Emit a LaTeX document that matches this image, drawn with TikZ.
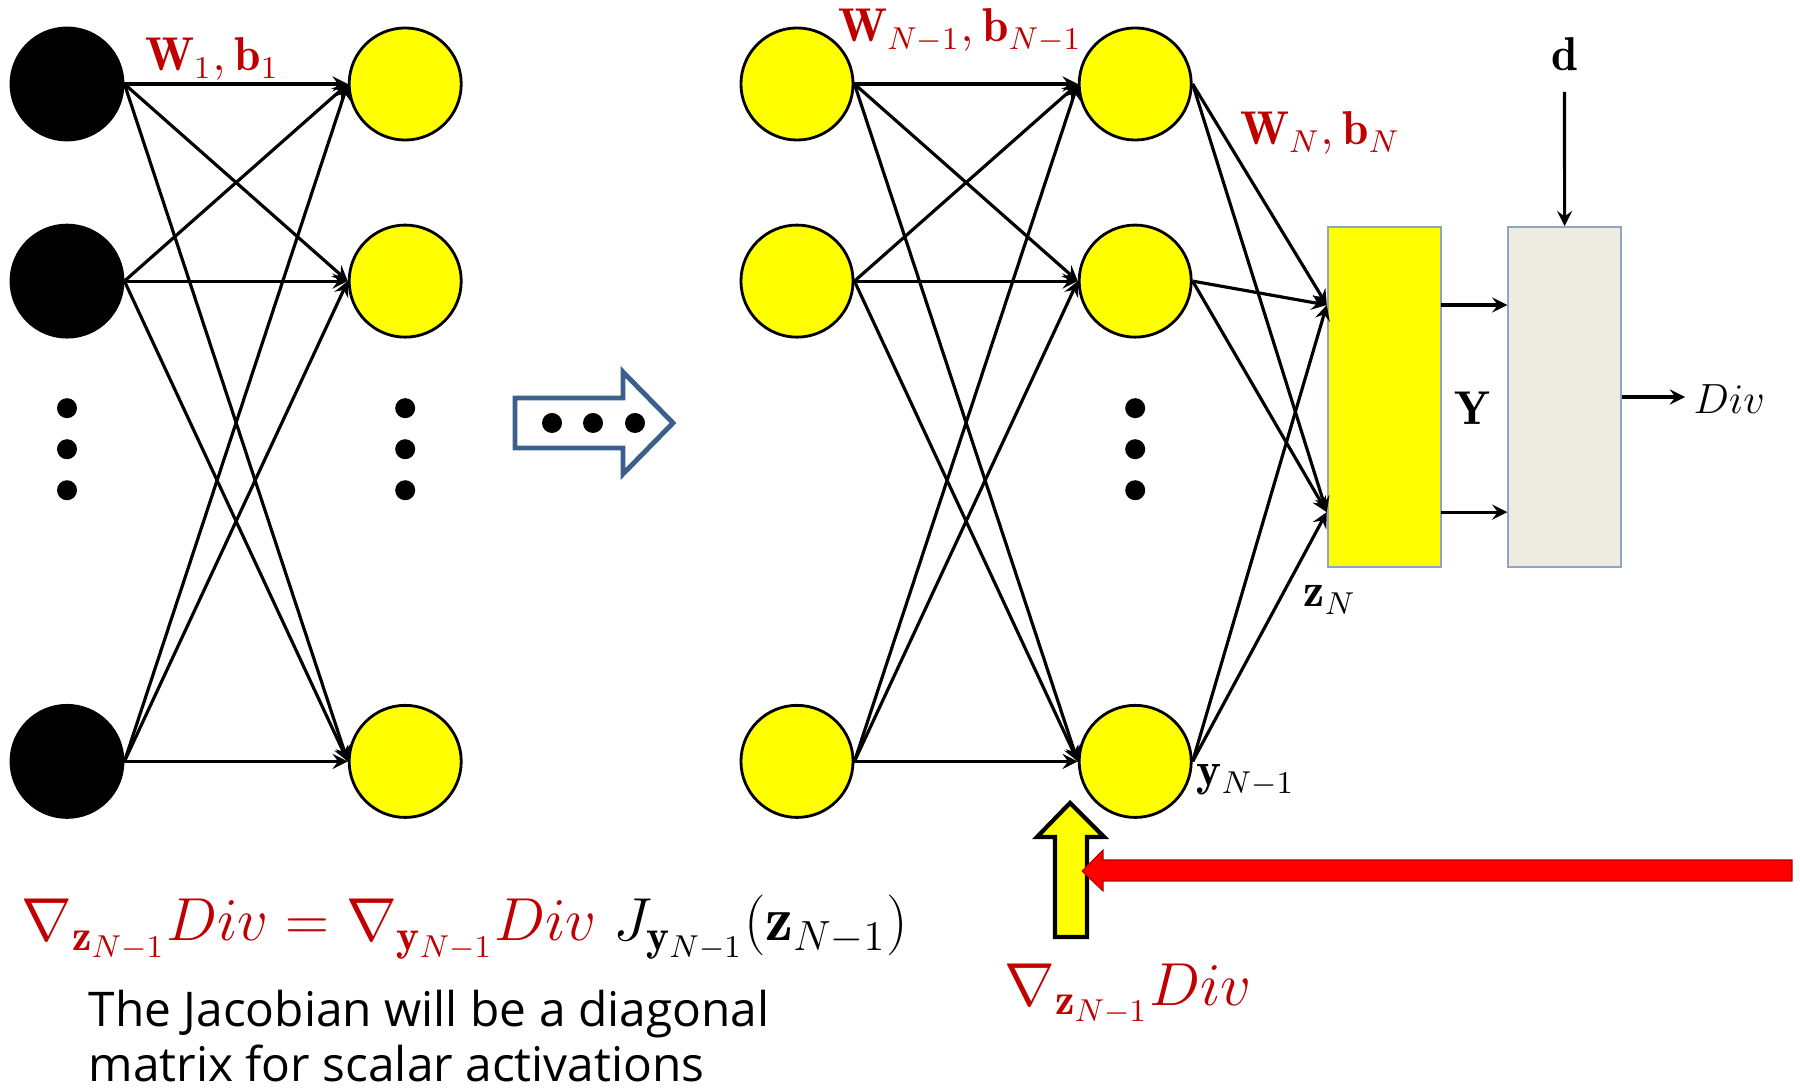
\documentclass[tikz,border=0pt]{standalone}
\usepackage{amsmath, amssymb}
\usepackage{fontspec}
\usepackage{xcolor}
\usepackage{tikz}
\usetikzlibrary{arrows, positioning, calc}
\newfontfamily\notefont{Open Sans}
\definecolor{labelred}{RGB}{192, 0, 0}
\definecolor{nodeyellow}{RGB}{255, 255, 0}
\definecolor{flowblue}{RGB}{60, 96, 140}
\definecolor{lossgray}{RGB}{238, 236, 225}
\definecolor{boxedge}{RGB}{140, 165, 200}

\begin{document}
\begin{tikzpicture}[x=0.01cm, y=-0.01cm, >=stealth, on grid,
    inode/.style={circle, draw=black, fill=black, line width=0.8pt, minimum size=1.12cm, inner sep=0pt},
    hnode/.style={circle, draw=black, fill=nodeyellow, line width=0.8pt, minimum size=1.12cm, inner sep=0pt},
    onode/.style={circle, minimum size=1.13cm, inner sep=0pt},
    dotnode/.style={circle, fill=black, minimum size=0.2cm, inner sep=0pt},
    ybox/.style={rectangle, draw=boxedge, fill=nodeyellow, line width=0.4pt, minimum width=1.13cm, minimum height=3.40cm},
    lossbox/.style={rectangle, draw=boxedge, fill=lossgray, line width=0.4pt, minimum width=1.13cm, minimum height=3.40cm},
    wlabel/.style={inner sep=0pt, text=labelred, font=\fontsize{13.5}{15}\selectfont},
    mlabel/.style={inner sep=0pt, font=\fontsize{13.5}{15}\selectfont},
    biglabel/.style={inner sep=0pt, font=\fontsize{17.8}{20}\selectfont},
    note/.style={inner sep=0pt, font=\notefont\fontsize{13.6}{16}\selectfont},
    arrow/.style={->, line width=0.9pt}]

    \useasboundingbox (0,0) rectangle (1800,1089);

    % Input layer
    \node[inode] (x1) at (67,84) {};
    \node[inode, below=1.97cm of x1] (x2) {};
    \node[inode, below=4.80cm of x2] (x3) {};
    \node[dotnode, below=1.27cm of x2] (xd1) {};
    \node[dotnode, below=0.41cm of xd1] (xd2) {};
    \node[dotnode, below=0.41cm of xd2] (xd3) {};

    % First hidden layer
    \node[hnode, right=3.38cm of x1] (h1) {};
    \node[hnode, below=1.97cm of h1] (h2) {};
    \node[hnode, below=4.80cm of h2] (h3) {};
    \node[dotnode, below=1.27cm of h2] (hd1) {};
    \node[dotnode, below=0.41cm of hd1] (hd2) {};
    \node[dotnode, below=0.41cm of hd2] (hd3) {};

    % Layer N-2
    \node[hnode] (m1) at (797,84) {};
    \node[hnode, below=1.97cm of m1] (m2) {};
    \node[hnode, below=4.80cm of m2] (m3) {};

    % Layer N-1
    \node[hnode, right=3.38cm of m1] (n1) {};
    \node[hnode, below=1.97cm of n1] (n2) {};
    \node[hnode, below=4.80cm of n2] (n3) {};
    \node[dotnode, below=1.27cm of n2] (nd1) {};
    \node[dotnode, below=0.41cm of nd1] (nd2) {};
    \node[dotnode, below=0.41cm of nd2] (nd3) {};

    % Output and divergence
    \node[onode] (o1) at (1384,305) {};
    \node[onode, below=2.07cm of o1] (o2) {};
    \node[ybox] (yout) at (1384.5,397) {};
    \node[lossbox, right=1.80cm of yout] (loss) {};

    % Ellipsis arrow
    \draw[flowblue, line width=1.4pt, line join=miter] (515,398) -- (623,398) -- (623,372) -- (673,423)
        -- (623,474) -- (623,448) -- (515,448) -- cycle;
    \fill (552,423) circle (0.1cm) (593,423) circle (0.1cm) (635,423) circle (0.1cm);

    % Labels
    \node[wlabel, anchor=base] (w1) at (212,71) {$\mathbf{W}_1, \mathbf{b}_1$};
    \node[wlabel, anchor=base] (wn1) at (960,42) {$\mathbf{W}_{N-1}, \mathbf{b}_{N-1}$};
    \node[wlabel, anchor=base] (wn) at (1320,145) {$\mathbf{W}_N, \mathbf{b}_N$};
    \node[mlabel, anchor=base west] (ylab) at (1196,786) {$\mathbf{y}_{N-1}$};
    \node[mlabel, anchor=base west] (zlab) at (1303,607) {$\mathbf{z}_N$};
    \node[mlabel, anchor=base] (ylabel) at (1472,425) {$\mathbf{Y}$};
    \node[mlabel, anchor=base] (dlab) at (1564.5,71) {$\mathbf{d}$};
    \node[mlabel, font=\fontsize{12.2}{14}\selectfont, anchor=base west] (div) at (1693,414) {$Div$};

    % Connections, first layer
    \draw[arrow] (x1.east) -- (h1.west);
    \draw[arrow] (x1.east) -- (h2.west);
    \draw[arrow] (x1.east) -- (h3.west);
    \draw[arrow] (x2.east) -- (h1.west);
    \draw[arrow] (x2.east) -- (h2.west);
    \draw[arrow] (x2.east) -- (h3.west);
    \draw[arrow] (x3.east) -- (h1.west);
    \draw[arrow] (x3.east) -- (h2.west);
    \draw[arrow] (x3.east) -- (h3.west);

    % Connections, layer N-1
    \draw[arrow] (m1.east) -- (n1.west);
    \draw[arrow] (m1.east) -- (n2.west);
    \draw[arrow] (m1.east) -- (n3.west);
    \draw[arrow] (m2.east) -- (n1.west);
    \draw[arrow] (m2.east) -- (n2.west);
    \draw[arrow] (m2.east) -- (n3.west);
    \draw[arrow] (m3.east) -- (n1.west);
    \draw[arrow] (m3.east) -- (n2.west);
    \draw[arrow] (m3.east) -- (n3.west);

    % Connections, layer N
    \draw[arrow] (n1.east) -- (o1.west);
    \draw[arrow] (n1.east) -- (o2.west);
    \draw[arrow] (n2.east) -- (o1.west);
    \draw[arrow] (n2.east) -- (o2.west);
    \draw[arrow] (n3.east) -- (o1.west);
    \draw[arrow] (n3.east) -- (o2.west);
    \draw[arrow] (o1.east) -- (o1.east -| loss.west);
    \draw[arrow] (o2.east) -- (o2.east -| loss.west);
    \draw[arrow] ([yshift=-0.2cm]dlab.south) -- (loss.north);
    \draw[arrow] (loss.east) -- ([xshift=-0.08cm]loss.east -| div.west);

    % Backward pass
    \draw[black, line width=1.2pt, fill=nodeyellow, line join=miter] (1055,937) -- (1055,837) -- (1037,837) -- (1070,803)
        -- (1104,837) -- (1087,837) -- (1087,937) -- cycle;
    \draw[red!70!black, line width=0.3pt, fill=red] (1792,860) -- (1103,860) -- (1103,850) -- (1082,871)
        -- (1103,891) -- (1103,881) -- (1792,881) -- cycle;

    % Equations
    \node[biglabel, anchor=base west] (chain) at (21,941)
        {$\textcolor{labelred}{\nabla_{\mathbf{z}_{N-1}} Div = \nabla_{\mathbf{y}_{N-1}} Div}\; J_{\mathbf{y}_{N-1}}(\mathbf{z}_{N-1})$};
    \node[biglabel, text=labelred, anchor=base west] (gradz) at (1004,1005) {$\nabla_{\mathbf{z}_{N-1}} Div$};
    \node[note, anchor=base west] (note1) at (88,1026) {The Jacobian will be a diagonal};
    \node[note, anchor=base west] (note2) at (88,1081) {matrix for scalar activations};
\end{tikzpicture}
\end{document}
